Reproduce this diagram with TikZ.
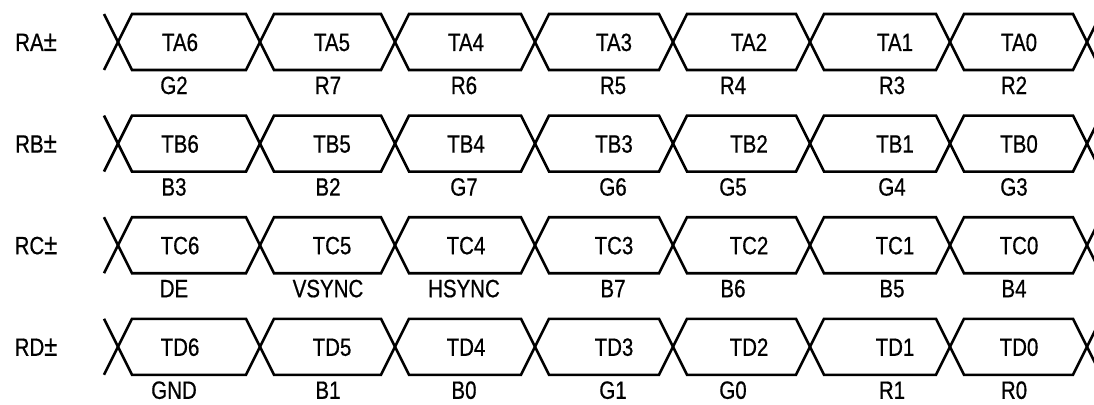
\documentclass[tikz,border=0pt]{standalone}
\usepackage{fontspec}
\setmainfont{Liberation Sans}[FakeStretch=0.82,FakeBold=0.6]
\usetikzlibrary{calc}

\begin{document}
\begin{tikzpicture}[x=1pt,y=-1pt,line width=2.6pt,line join=miter,
  txt/.style={font=\fontsize{25}{25}\selectfont,inner sep=0,text height=18pt,text depth=0pt}]
\useasboundingbox (0,0) rectangle (1094,404);
\clip (0,0) rectangle (1094,404);
\def\cx{{118,260,395,535,673,810,950,1087}}
\def\xtop{{180,332,466,614,749,895,1019}}
\def\xbot{{174,328,464,613,733,892,1014}}
\foreach \s/\bits [count=\r from 0] in {A/{G2,R7,R6,R5,R4,R3,R2},B/{B3,B2,G7,G6,G5,G4,G3},
    C/{DE,VSYNC,HSYNC,B7,B6,B5,B4},D/{GND,B1,B0,G1,G0,R1,R0}} {
  \pgfmathsetmacro{\y}{42+101.6*\r}
  \node[txt] (r\s) at (36,\y) {R\s{\fontsize{29}{29}\selectfont±}};
  % open ends of the first and last crossing
  \draw (104,\y-28) -- (118,\y) -- (104,\y+28);
  \draw (1101,\y-28) -- (1087,\y) -- (1101,\y+28);
  \foreach \b [count=\k from 0] in \bits {
    \pgfmathsetmacro{\xa}{\cx[\k]}
    \pgfmathsetmacro{\xb}{\cx[\k+1]}
    \pgfmathtruncatemacro{\n}{6-\k}
    \draw (\xa,\y) -- (\xa+14,\y-28) -- (\xb-14,\y-28) -- (\xb,\y)
      -- (\xb-14,\y+28) -- (\xa+14,\y+28) -- cycle;
    \node[txt] (t\s\n) at ({\xtop[\k]},\y) {T\s\n};
    \node[txt] (b\s\n) at ({\xbot[\k]},\y+43) {\b};
  }
}
\end{tikzpicture}
\end{document}
